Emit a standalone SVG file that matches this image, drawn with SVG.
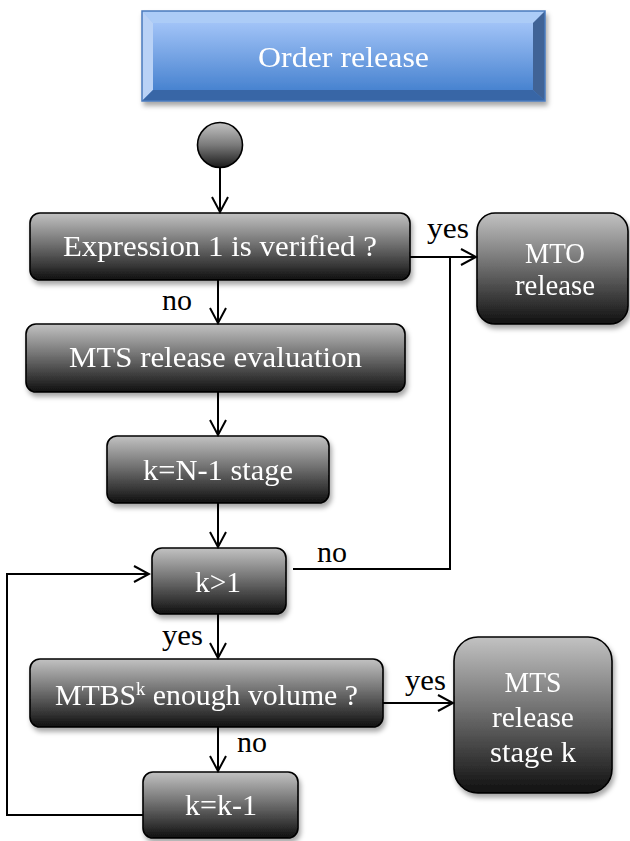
<svg xmlns="http://www.w3.org/2000/svg" width="630" height="841" viewBox="0 0 630 841">
<style>
.node{stroke:#000;stroke-width:1.6;fill:url(#gray)}
.nt{font-family:"Liberation Serif","Times New Roman",serif;font-size:29px;fill:#fff;text-anchor:middle}
.lb{font-family:"Liberation Serif","Times New Roman",serif;font-size:29px;fill:#000}
.cn{fill:none;stroke:#000;stroke-width:2}
</style>
<defs>
<linearGradient id="gray" x1="0" y1="0" x2="0" y2="1">
<stop offset="0" stop-color="#c2c2c2"/>
<stop offset="0.45" stop-color="#737373"/>
<stop offset="1" stop-color="#101010"/>
</linearGradient>
<linearGradient id="ball" x1="0" y1="0" x2="0" y2="1">
<stop offset="0" stop-color="#c4c4c4"/>
<stop offset="0.5" stop-color="#7a7a7a"/>
<stop offset="1" stop-color="#1a1a1a"/>
</linearGradient>
<linearGradient id="blue" x1="0" y1="0" x2="0" y2="1">
<stop offset="0" stop-color="#a1c3f7"/>
<stop offset="1" stop-color="#4883d0"/>
</linearGradient>
<filter id="sh" x="-10%" y="-10%" width="125%" height="135%">
<feDropShadow dx="2" dy="4" stdDeviation="2.5" flood-color="#000" flood-opacity="0.35"/>
</filter>
<marker id="ah" viewBox="0 0 18 18" refX="16" refY="9" markerWidth="18" markerHeight="18" markerUnits="userSpaceOnUse" orient="auto">
<path d="M1,1 L16,9 L1,17" fill="none" stroke="#000" stroke-width="2"/>
</marker>
</defs>

<g id="title" filter="url(#sh)">
<rect x="142" y="11" width="403" height="90" fill="url(#blue)"/>
<polygon points="142,11 545,11 533,23 153,23" fill="#acccf7"/>
<polygon points="142,11 153,23 153,90 142,101" fill="#b9d2f6"/>
<polygon points="545,11 545,101 533,90 533,23" fill="#3f6396"/>
<polygon points="142,101 153,90 533,90 545,101" fill="#3866a6"/>
<rect x="153" y="23" width="380" height="67" fill="url(#blue)"/>
<rect x="142" y="11" width="403" height="90" fill="none" stroke="#4a7bbd" stroke-width="1.5"/>
<text class="nt" x="343.5" y="67" textLength="171" lengthAdjust="spacingAndGlyphs">Order release</text>
</g>

<g id="start">
<circle cx="220" cy="145" r="22.5" fill="url(#ball)" stroke="#000" stroke-width="1.6"/>
</g>

<g id="expr1" filter="url(#sh)">
<rect class="node" x="30" y="213" width="380" height="67" rx="10"/>
<text class="nt" x="220" y="256" textLength="314" lengthAdjust="spacingAndGlyphs">Expression 1 is verified ?</text>
</g>

<g id="mto" filter="url(#sh)">
<rect class="node" x="477" y="213" width="151" height="111" rx="18"/>
<text class="nt" x="555" y="263" textLength="60" lengthAdjust="spacingAndGlyphs">MTO</text>
<text class="nt" x="555" y="295" textLength="80" lengthAdjust="spacingAndGlyphs">release</text>
</g>

<g id="mtseval" filter="url(#sh)">
<rect class="node" x="26" y="324" width="379" height="68" rx="10"/>
<text class="nt" x="215.5" y="367" textLength="293" lengthAdjust="spacingAndGlyphs">MTS release evaluation</text>
</g>

<g id="kn1" filter="url(#sh)">
<rect class="node" x="107" y="436" width="222" height="67" rx="10"/>
<text class="nt" x="218" y="480" textLength="150" lengthAdjust="spacingAndGlyphs">k=N-1 stage</text>
</g>

<g id="kgt1" filter="url(#sh)">
<rect class="node" x="152" y="548" width="134" height="66" rx="10"/>
<text class="nt" x="218" y="592" textLength="46" lengthAdjust="spacingAndGlyphs">k&gt;1</text>
</g>

<g id="mtbs" filter="url(#sh)">
<rect class="node" x="30" y="659" width="353" height="68" rx="10"/>
<text class="nt" x="206.5" y="705" textLength="303" lengthAdjust="spacingAndGlyphs">MTBS<tspan font-size="18" dy="-10">k</tspan><tspan dy="10"> enough volume ?</tspan></text>
</g>

<g id="mtsstage" filter="url(#sh)">
<rect class="node" x="454" y="637" width="158" height="156" rx="24"/>
<text class="nt" x="533" y="692" textLength="57" lengthAdjust="spacingAndGlyphs">MTS</text>
<text class="nt" x="533" y="727" textLength="82" lengthAdjust="spacingAndGlyphs">release</text>
<text class="nt" x="533" y="762" textLength="86" lengthAdjust="spacingAndGlyphs">stage k</text>
</g>

<g id="kk1" filter="url(#sh)">
<rect class="node" x="143" y="772" width="155" height="66" rx="10"/>
<text class="nt" x="221" y="815" textLength="72" lengthAdjust="spacingAndGlyphs">k=k-1</text>
</g>

<g id="connectors">
<path class="cn" d="M220,168 L220,212" marker-end="url(#ah)"/>
<path class="cn" d="M218,280 L218,323" marker-end="url(#ah)"/>
<path class="cn" d="M410,257 L476,257" marker-end="url(#ah)"/>
<path class="cn" d="M218,392 L218,435" marker-end="url(#ah)"/>
<path class="cn" d="M218,503 L218,547" marker-end="url(#ah)"/>
<path class="cn" d="M293,569 L450,569 L450,257" stroke-width="1.6"/>
<path class="cn" d="M218,614 L218,658" marker-end="url(#ah)"/>
<path class="cn" d="M383,703 L453,703" marker-end="url(#ah)"/>
<path class="cn" d="M218,727 L218,771" marker-end="url(#ah)"/>
<path class="cn" d="M143,815 L7,815 L7,574 L149,574" stroke-width="1.6" marker-end="url(#ah)"/>
<text class="lb" x="427" y="238" textLength="42" lengthAdjust="spacingAndGlyphs">yes</text>
<text class="lb" x="162" y="310" textLength="30" lengthAdjust="spacingAndGlyphs">no</text>
<text class="lb" x="317" y="562" textLength="30" lengthAdjust="spacingAndGlyphs">no</text>
<text class="lb" x="162" y="645" textLength="41" lengthAdjust="spacingAndGlyphs">yes</text>
<text class="lb" x="405" y="690" textLength="41" lengthAdjust="spacingAndGlyphs">yes</text>
<text class="lb" x="237" y="752" textLength="30" lengthAdjust="spacingAndGlyphs">no</text>
</g>
</svg>
